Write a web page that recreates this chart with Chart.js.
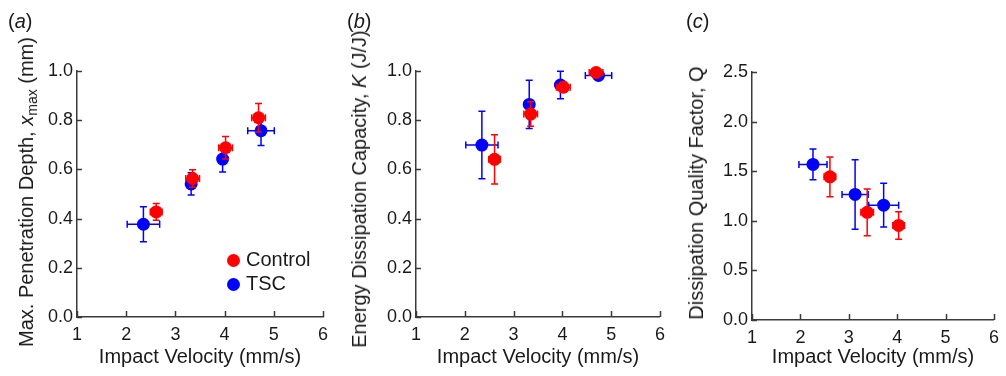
<!DOCTYPE html>
<html>
<head>
<meta charset="utf-8">
<script src="https://cdn.jsdelivr.net/npm/chart.js@4.4.1/dist/chart.umd.min.js"></script>
<style>
  body { margin: 0; background: #fff; width: 1006px; height: 376px; position: relative; overflow: hidden;
         font-family: 'Liberation Sans', Arial, sans-serif; color: #1a1a1a; }
  canvas { position: absolute; top: 0; }
  .ytitle { position: absolute; font-size: 20px; line-height: 20px; white-space: nowrap;
            transform: translate(-50%, -50%) rotate(-90deg); }
  .ytitle sub { font-size: 14px; line-height: 0; vertical-align: -4px; }
  .plabel { position: absolute; top: 11px; font-size: 20px; line-height: 20px; }
  .leg { position: absolute; font-size: 20px; line-height: 20px; white-space: nowrap; }
  .dot { position: absolute; width: 13px; height: 13px; border-radius: 50%; }
</style>
</head>
<body>
<canvas id="chartA" width="336" height="376" style="left:0"></canvas>
<canvas id="chartB" width="336" height="376" style="left:336px"></canvas>
<canvas id="chartC" width="334" height="376" style="left:672px"></canvas>

<div class="plabel" style="left:8px">(<i>a</i>)</div>
<div class="plabel" style="left:347px">(<i>b</i>)</div>
<div class="plabel" style="left:686px">(<i>c</i>)</div>

<div class="ytitle" style="left:26px;top:192px">Max. Penetration Depth, <i>x</i><sub>max</sub> (mm)</div>
<div class="ytitle" style="left:359px;top:189px">Energy Dissipation Capacity, <i>K</i> (J/J)</div>
<div class="ytitle" style="left:696px;top:193px">Dissipation Quality Factor, Q</div>

<div class="dot" style="left:227px;top:254px;background:#ff0000"></div>
<div class="leg" style="left:246px;top:249px">Control</div>
<div class="dot" style="left:227px;top:278px;background:#0000ff"></div>
<div class="leg" style="left:246px;top:273px">TSC</div>

<script>
// impact velocity (mm/s), panels a and b
const ctrlVel = [2.61, 3.35, 4.02, 4.69];
const ctrlVelErr = [0.12, 0.14, 0.14, 0.14];
const tscVel = [2.35, 3.32, 3.96, 4.74];
const tscVelErr = [0.33, 0.08, 0.08, 0.27];

// (a) max penetration depth (mm)
const ctrlDepth = [0.427, 0.563, 0.688, 0.810];
const ctrlDepthErr = [0.034, 0.036, 0.046, 0.058];
const tscDepth = [0.377, 0.541, 0.642, 0.757];
const tscDepthErr = [0.071, 0.045, 0.053, 0.060];

// (b) energy dissipation capacity K (J/J)
const ctrlK = [0.641, 0.825, 0.934, 0.994];
const ctrlKErr = [0.100, 0.050, 0.020, 0.010];
const tscK = [0.699, 0.864, 0.943, 0.982];
const tscKErr = [0.137, 0.098, 0.056, 0.010];

// (c) dissipation quality factor Q
const ctrlVelQ = [2.61, 3.38, 4.03];
const ctrlVelQErr = [0.12, 0.13, 0.12];
const ctrlQ = [1.443, 1.085, 0.953];
const ctrlQErr = [0.200, 0.235, 0.138];
const tscVelQ = [2.26, 3.13, 3.72];
const tscVelQErr = [0.29, 0.27, 0.31];
const tscQ = [1.568, 1.266, 1.158];
const tscQErr = [0.155, 0.350, 0.220];

const RED = '#ff0000';
const BLUE = '#0000ff';
const AXIS = '#3a3a3a';
const FONT = "'Liberation Sans', Arial, sans-serif";

function points(xs, xe, ys, ye) {
    return xs.map((x, i) => ({ x: x, y: ys[i], xErr: xe[i], yErr: ye[i] }));
}

// error bars drawn right before each dataset's points
const errorBars = {
    id: 'errorBars',
    beforeDatasetDraw(chart, args) {
        const ds = chart.data.datasets[args.index];
        const xs = chart.scales.x, ys = chart.scales.y;
        const ctx = chart.ctx;
        const cap = 3.5;
        ctx.save();
        ctx.strokeStyle = ds.backgroundColor;
        ctx.lineWidth = 1.5;
        ds.data.forEach(p => {
            const px = xs.getPixelForValue(p.x), py = ys.getPixelForValue(p.y);
            const x0 = xs.getPixelForValue(p.x - p.xErr), x1 = xs.getPixelForValue(p.x + p.xErr);
            const y0 = ys.getPixelForValue(p.y - p.yErr), y1 = ys.getPixelForValue(p.y + p.yErr);
            ctx.beginPath();
            ctx.moveTo(x0, py); ctx.lineTo(x1, py);
            ctx.moveTo(x0, py - cap); ctx.lineTo(x0, py + cap);
            ctx.moveTo(x1, py - cap); ctx.lineTo(x1, py + cap);
            ctx.moveTo(px, y0); ctx.lineTo(px, y1);
            ctx.moveTo(px - cap, y0); ctx.lineTo(px + cap, y0);
            ctx.moveTo(px - cap, y1); ctx.lineTo(px + cap, y1);
            ctx.stroke();
        });
        ctx.restore();
    }
};

// tick marks pointing into the plot
const inwardTicks = {
    id: 'inwardTicks',
    afterDraw(chart) {
        const { ctx, chartArea } = chart;
        const xs = chart.scales.x, ys = chart.scales.y;
        ctx.save();
        ctx.strokeStyle = AXIS;
        ctx.lineWidth = 1.5;
        ctx.beginPath();
        xs.ticks.forEach(t => {
            const px = Math.round(xs.getPixelForValue(t.value)) + 0.5;
            ctx.moveTo(px, chartArea.bottom); ctx.lineTo(px, chartArea.bottom - 6);
        });
        ys.ticks.forEach(t => {
            const py = Math.round(ys.getPixelForValue(t.value)) + 0.5;
            ctx.moveTo(chartArea.left, py); ctx.lineTo(chartArea.left + 5, py);
        });
        ctx.stroke();
        ctx.restore();
    }
};

function makeChart(id, ctrlData, tscData, yMax, yStep, box) {
    return new Chart(document.getElementById(id), {
        type: 'scatter',
        data: {
            datasets: [
                { label: 'Control', data: ctrlData, backgroundColor: RED, borderWidth: 0, pointRadius: 6.5, clip: false },
                { label: 'TSC', data: tscData, backgroundColor: BLUE, borderWidth: 0, pointRadius: 6.5, clip: false }
            ]
        },
        options: {
            responsive: false,
            animation: false,
            layout: { padding: { top: box.top, right: box.right, left: 0, bottom: 0 } },
            plugins: { legend: { display: false }, tooltip: { enabled: false } },
            scales: {
                x: {
                    type: 'linear', min: 1, max: 6,
                    afterFit: s => { s.height = box.xh; },
                    grid: { display: false, drawTicks: false },
                    border: { display: true, color: AXIS, width: 1.5 },
                    ticks: { stepSize: 1, padding: 7, color: '#1a1a1a', font: { family: FONT, size: 18 } },
                    title: { display: true, text: 'Impact Velocity (mm/s)', color: '#1a1a1a',
                             font: { family: FONT, size: 20 }, padding: { top: 0, bottom: 7 } }
                },
                y: {
                    type: 'linear', min: 0, max: yMax,
                    afterFit: s => { s.width = box.yw; },
                    grid: { display: false, drawTicks: false },
                    border: { display: true, color: AXIS, width: 1.5 },
                    ticks: { stepSize: yStep, padding: 4, color: '#1a1a1a', font: { family: FONT, size: 18 },
                             callback: v => v.toFixed(1) }
                }
            }
        },
        plugins: [errorBars, inwardTicks]
    });
}

makeChart('chartA',
    points(ctrlVel, ctrlVelErr, ctrlDepth, ctrlDepthErr),
    points(tscVel, tscVelErr, tscDepth, tscDepthErr),
    1.0, 0.2, { top: 71, right: 13, yw: 77, xh: 59 });

makeChart('chartB',
    points(ctrlVel, ctrlVelErr, ctrlK, ctrlKErr),
    points(tscVel, tscVelErr, tscK, tscKErr),
    1.0, 0.2, { top: 71, right: 10, yw: 80, xh: 59 });

makeChart('chartC',
    points(ctrlVelQ, ctrlVelQErr, ctrlQ, ctrlQErr),
    points(tscVelQ, tscVelQErr, tscQ, tscQErr),
    2.5, 0.5, { top: 72, right: 8, yw: 80, xh: 56 });
</script>
</body>
</html>
